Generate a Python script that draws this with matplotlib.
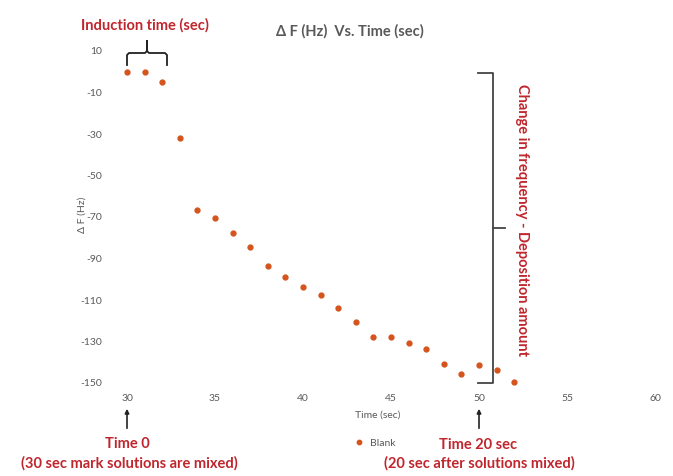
import matplotlib
matplotlib.use("Agg")
import matplotlib.pyplot as plt
from matplotlib.patches import FancyArrowPatch

plt.rcParams["font.family"] = ["Lato", "DejaVu Sans"]
plt.rcParams["axes.unicode_minus"] = False

time_sec = [30, 31, 32, 33, 34, 35, 36, 37, 38, 39, 40, 41, 42, 43, 44, 45,
            46, 47, 48, 49, 50, 51, 52]
delta_f = [0, 0, -5, -32, -66.5, -70.5, -77.5, -84.5, -93.5, -99, -103.5,
           -107.5, -114, -120.5, -128, -128, -130.5, -133.5, -141, -145.5,
           -141.5, -143.5, -149.5]
x_ticks = [30, 35, 40, 45, 50, 55, 60]
y_ticks = [10, -10, -30, -50, -70, -90, -110, -130, -150]

W, H = 673, 476
RED = "#c0262d"
GRAY = "#595959"
DOT = "#d5541c"


def fx(px):
    return px / W


def fy(py):
    return 1 - py / H


fig = plt.figure(figsize=(W / 100, H / 100), dpi=100)
ax = fig.add_axes([fx(127), fy(383), fx(655) - fx(127), fy(51) - fy(383)])

ax.plot(time_sec, delta_f, "o", color=DOT, markersize=3.5, label="Blank",
        clip_on=False)
ax.set_xlim(30, 60)
ax.set_ylim(-150, 10)
ax.set_xticks(x_ticks)
ax.set_yticks(y_ticks)
for s in ax.spines.values():
    s.set_visible(False)
ax.tick_params(length=0, labelsize=7.5, labelcolor=GRAY, pad=8)
ax.tick_params(axis="y", pad=18)
ax.set_xlabel("Time (sec)", fontsize=7.5, color=GRAY)
ax.set_ylabel("Δ F (Hz)", fontsize=7.5, color=GRAY)
ax.xaxis.set_label_coords(fx(378), fy(415), transform=fig.transFigure)
ax.yaxis.set_label_coords(fx(82), fy(215), transform=fig.transFigure)
ax.xaxis.label.set_va("center")
ax.yaxis.label.set_va("center")

fig.text(fx(350), fy(31), "Δ F (Hz)  Vs. Time (sec)", ha="center",
         va="center", fontsize=10.5, color=GRAY, fontweight="bold")

leg = ax.legend(loc="center", bbox_to_anchor=(fx(372), fy(443)),
                bbox_transform=fig.transFigure, frameon=False, fontsize=7.5,
                handletextpad=0.1, markerscale=0.9)
for t in leg.get_texts():
    t.set_color(GRAY)

# induction time brace
fig.text(fx(145), fy(25), "Induction time (sec)", ha="center", va="center",
         fontsize=10.5, color=RED, fontweight="bold")
bx = [127, 127, 129, 145, 147, 147, 147, 149, 165, 167, 167]
by = [65, 55, 53, 53, 51, 41, 51, 53, 53, 55, 65]
fig.add_artist(plt.Line2D([fx(v) for v in bx], [fy(v) for v in by],
                          color="#222222", lw=1.3))

# right bracket
rx = [478, 493, 493, 478]
ry = [73, 73, 383, 383]
fig.add_artist(plt.Line2D([fx(v) for v in rx], [fy(v) for v in ry],
                          color="#444444", lw=1.3))
fig.add_artist(plt.Line2D([fx(493), fx(505)], [fy(228), fy(228)],
                          color="#444444", lw=1.3))
fig.text(fx(522), fy(220), "Change in frequency - Deposition amount",
         rotation=-90, ha="center", va="center", fontsize=10.5, color=RED,
         fontweight="bold")

# arrows and time notes
for x0 in (127, 479):
    fig.add_artist(FancyArrowPatch(
        (fx(x0), fy(431)), (fx(x0), fy(406)), transform=fig.transFigure,
        arrowstyle="-|>", mutation_scale=6, color="#222222", lw=1.2))

fig.text(fx(127), fy(444), "Time 0", ha="center", va="center",
         fontsize=10.5, color=RED, fontweight="bold")
fig.text(fx(129), fy(463), "(30 sec mark solutions are mixed)", ha="center",
         va="center", fontsize=10.5, color=RED, fontweight="bold")
fig.text(fx(478), fy(445), "Time 20 sec", ha="center", va="center",
         fontsize=10.5, color=RED, fontweight="bold")
fig.text(fx(479), fy(463), "(20 sec after solutions mixed)", ha="center",
         va="center", fontsize=10.5, color=RED, fontweight="bold")

fig.savefig("out.png", dpi=100)
